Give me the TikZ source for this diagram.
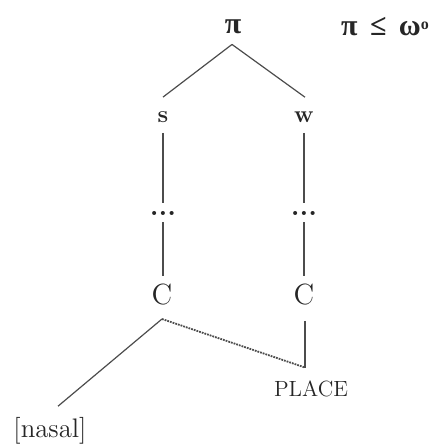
\documentclass[tikz,border=0pt]{standalone}
\usepackage{fontspec}
\usepackage{tikz}
\usetikzlibrary{calc}
\newfontfamily\grkfont{Liberation Serif}

\begin{document}
\begin{tikzpicture}[x=0.5pt,y=0.5pt,
  seg/.style={inner sep=0pt, text=black!85},
  branch/.style={draw=black!70, line width=0.6pt},
  assoc/.style={draw=black!70, line width=0.9pt, dash pattern=on 0.9pt off 0.5pt}]
  % Fix the frame of the picture
  \useasboundingbox (0,0) rectangle (436,-446);

  % Put the foot and the constraint
  \node[seg, font=\fontsize{15}{17}\selectfont\grkfont\bfseries] (pi) at (233,-27) {π};
  \node[seg, font=\fontsize{15}{17}\selectfont\grkfont\bfseries] (rel) at (385,-27) {π\, ≤\, ω\raisebox{0.5ex}{\fontsize{8}{9}\selectfont o}};

  % Put the strong and weak branches
  \node[seg, font=\fontsize{12}{14}\selectfont\bfseries] (s) at (163,-117) {s};
  \node[seg, font=\fontsize{12}{14}\selectfont\bfseries] (w) at (304,-117) {w};
  \node[seg, font=\fontsize{14}{16}\selectfont\bfseries] (ds) at (163,-213) {...};
  \node[seg, font=\fontsize{14}{16}\selectfont\bfseries] (dw) at (304,-213) {...};

  % Put the consonants and the features
  \node[seg, font=\fontsize{14.6}{17}\selectfont] (cs) at (162,-295) {C};
  \node[seg, font=\fontsize{14.6}{17}\selectfont] (cw) at (304,-295) {C};
  \node[seg, font=\fontsize{11}{13}\selectfont] (place) at (311,-389) {PLACE};
  \node[seg, font=\fontsize{13.4}{16}\selectfont] (nasal) at (50,-431) {[nasal]};

  % Points where the lines meet
  \coordinate (csfoot) at ($(cs.south)+(0,-13)$);
  \coordinate (plhead) at ($(place.north)+(-6,13)$);

  % Draw the tree
  \draw[branch] ($(pi.south)+(-1,-10)$) -- ($(s.north)+(0,14)$);
  \draw[branch] ($(pi.south)+(-1,-10)$) -- ($(w.north)+(1,14)$);
  \draw[branch] ($(s.south)+(0,-10)$) -- ($(ds.north)+(0,8)$);
  \draw[branch] ($(w.south)+(0,-10)$) -- ($(dw.north)+(0,8)$);
  \draw[branch] ($(ds.south)+(0,-7)$) -- ($(cs.north)+(1,8)$);
  \draw[branch] ($(dw.south)+(0,-7)$) -- ($(cw.north)+(0,8)$);
  \draw[branch] ($(cw.south)+(1,-15)$) -- (plhead);
  \draw[branch] (csfoot) -- ($(nasal.north)+(8,11)$);

  % Draw the spreading of place
  \draw[assoc] (csfoot) -- (plhead);
\end{tikzpicture}
\end{document}
